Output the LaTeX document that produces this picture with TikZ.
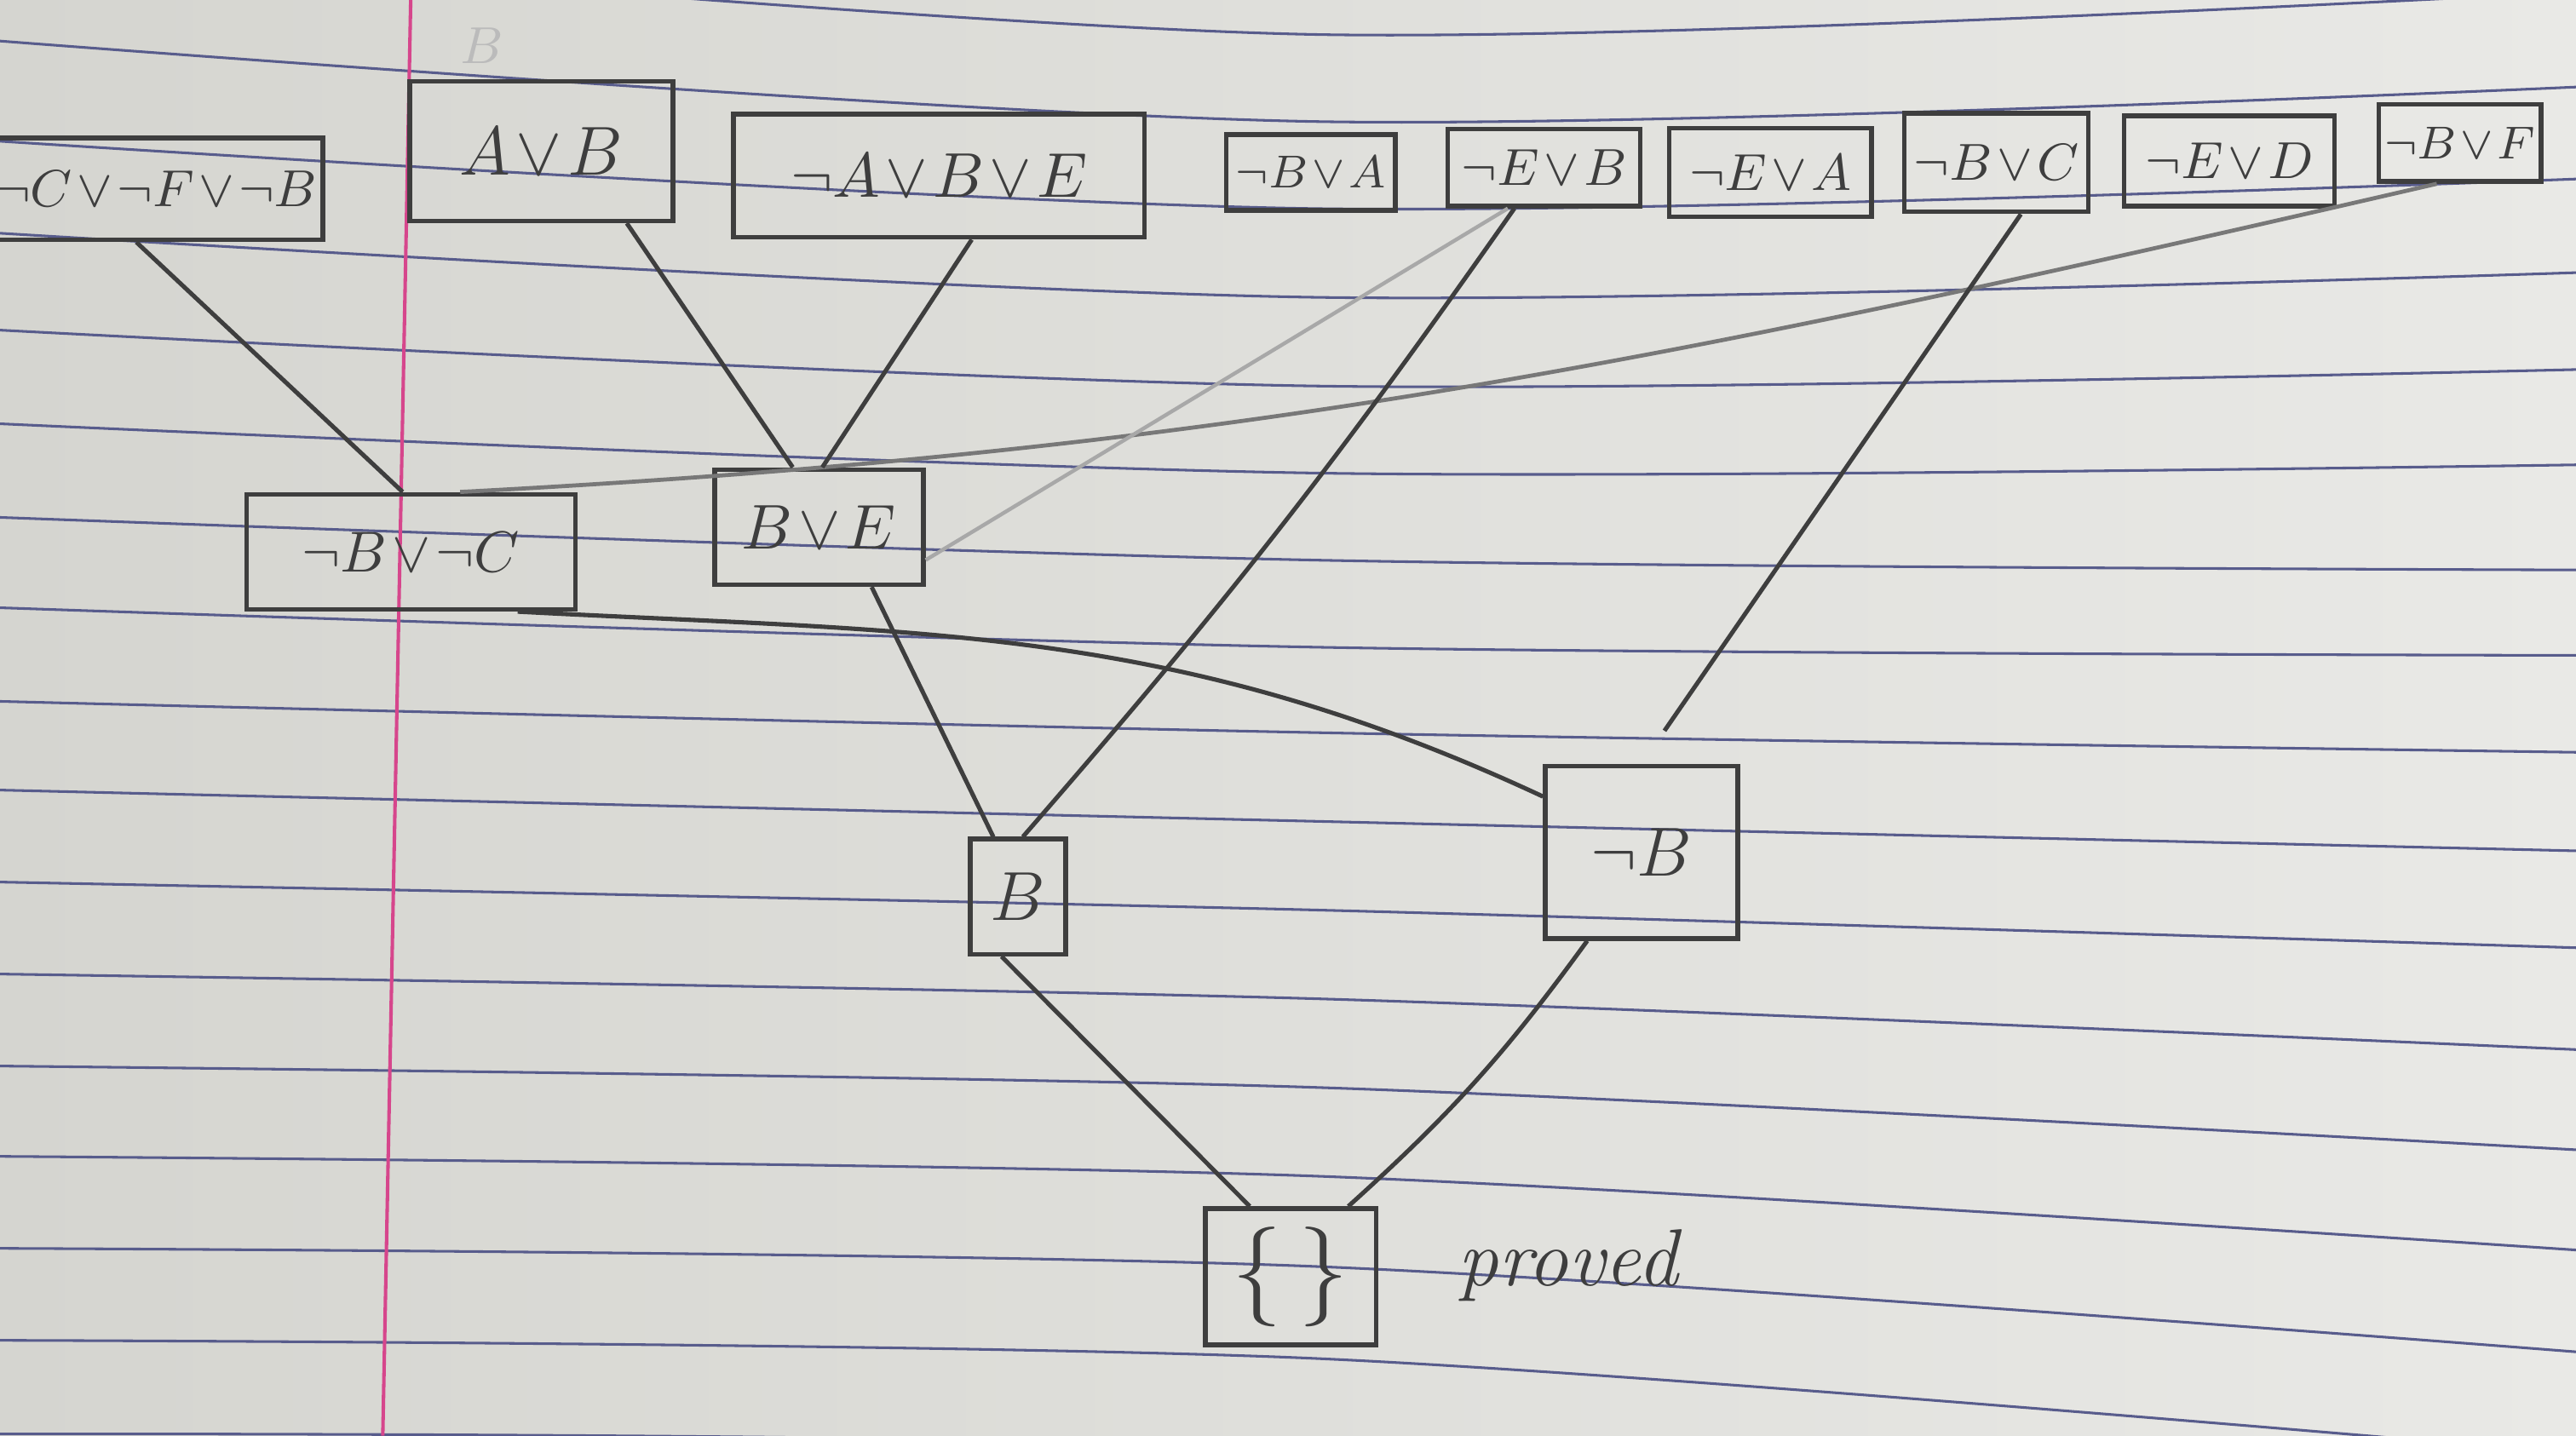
\documentclass[tikz,border=0pt]{standalone}
\usepackage{amsmath,amssymb}
\usepackage{xcolor}
\usetikzlibrary{positioning, calc}

\definecolor{paperL}{RGB}{213,213,208}
\definecolor{paperR}{RGB}{233,233,230}
\definecolor{rule}{RGB}{88,92,140}
\definecolor{margin}{RGB}{214,70,140}
\definecolor{pencil}{RGB}{62,62,62}

\tikzset{
  clause/.style = {
    rectangle, draw=pencil, line width=0.8pt, text=pencil,
    inner xsep=1pt, inner ysep=1.5pt,
    execute at begin node={\medmuskip=1.5mu},
    font=\fontsize{12}{14}\selectfont
  },
  smallclause/.style = {clause, font=\fontsize{9}{11}\selectfont},
  link/.style     = {draw=pencil, line width=0.75pt},
  softlink/.style = {draw=pencil!70, line width=0.7pt},
  faint/.style    = {draw=pencil!45, line width=0.65pt}
}

\begin{document}
\begin{tikzpicture}[
  x=0.01cm, y=-0.01cm,
  rline/.style={draw=rule, line width=0.45pt},
  mline/.style={draw=margin, line width=0.6pt}
]

%% ── Paper ────────────────────────────────────────────
\useasboundingbox (0,0) rectangle (1568,874);
\clip (0,0) rectangle (1568,874);
\shade[left color=paperL, right color=paperR] (0,0) rectangle (1568,874);
\foreach \yl/\ym/\yr in {-35/21/-5, 25/74/53, 86/127/109, 142/181/166,
    201/235/225, 258/288/283, 315/341/347, 370/394/399, 427/446/458,
    481/500/518, 537/554/577, 593/608/639, 649/662/700, 704/716/761,
    760/771/823, 816/827/885, 873/882/945}
  \draw[rline] plot[smooth] coordinates {(0,\yl) (800,\ym) (1568,\yr)};
\draw[mline] (250,0) -- (233,874);

%% ── Row 1: given clauses ─────────────────────────────
\node[smallclause, minimum width=2.0cm, minimum height=0.62cm,
      font=\fontsize{9.5}{11}\selectfont]
  (cfb) at (95,115) {$\neg C\vee\neg F\vee\neg B$};
\node[clause, minimum width=1.6cm, minimum height=0.85cm,
      right=0.5cm of cfb, yshift=0.23cm]
  (ab) {$A\vee B$};
\node[clause, minimum width=2.5cm, minimum height=0.75cm,
      font=\fontsize{11}{13}\selectfont,
      right=0.34cm of ab, yshift=-0.15cm]
  (abe) {$\neg A\vee B\vee E$};
\node[smallclause, minimum width=1.03cm, minimum height=0.46cm,
      font=\fontsize{8.5}{10}\selectfont,
      right=0.47cm of abe, yshift=0.02cm]
  (ba) {$\neg B\vee A$};
\node[smallclause, minimum width=1.17cm, minimum height=0.47cm,
      right=0.29cm of ba, yshift=0.03cm]
  (eb) {$\neg E\vee B$};
\node[smallclause, minimum width=1.23cm, minimum height=0.54cm,
      right=0.15cm of eb, yshift=-0.03cm]
  (ea) {$\neg E\vee A$};
\node[smallclause, minimum width=1.12cm, minimum height=0.6cm,
      right=0.17cm of ea, yshift=0.06cm]
  (bc) {$\neg B\vee C$};
\node[smallclause, minimum width=1.28cm, minimum height=0.55cm,
      right=0.19cm of bc, yshift=0.01cm]
  (ed) {$\neg E\vee D$};
\node[smallclause, minimum width=0.87cm, minimum height=0.47cm,
      font=\fontsize{8}{10}\selectfont,
      right=0.24cm of ed, yshift=0.11cm]
  (bf) {$\neg B\vee F$};

\node[above=0cm of ab, xshift=-0.36cm, yshift=0.05cm, inner sep=1pt,
      text=pencil!35, font=\fontsize{9}{10}\selectfont]
  (mark) {$B$};

%% ── Row 2: resolvents ────────────────────────────────
\node[clause, minimum width=2.0cm, minimum height=0.7cm,
      font=\fontsize{10}{12}\selectfont,
      below=1.52cm of cfb, xshift=1.55cm]
  (bnc) {$\neg B\vee\neg C$};
\node[clause, minimum width=1.27cm, minimum height=0.7cm,
      font=\fontsize{11}{13}\selectfont,
      right=0.82cm of bnc, yshift=0.15cm]
  (be) {$B\vee E$};

%% ── Row 3: unit clauses ──────────────────────────────
\node[clause, minimum width=0.58cm, minimum height=0.7cm,
      font=\fontsize{13}{15}\selectfont,
      below=1.52cm of be, xshift=1.21cm]
  (bb) {$B$};
\node[clause, minimum width=1.17cm, minimum height=1.05cm,
      font=\fontsize{13}{15}\selectfont,
      right=2.89cm of bb, yshift=0.27cm]
  (nb) {$\neg B$};

%% ── Row 4: empty clause ──────────────────────────────
\node[clause, minimum width=1.04cm, minimum height=0.83cm,
      font=\fontsize{18}{20}\selectfont,
      below=1.52cm of bb, xshift=1.66cm]
  (empty) {$\{\,\}$};
\node[right=0.36cm of empty, yshift=0.07cm, text=pencil,
      font=\fontsize{14}{16}\selectfont\itshape]
  (proved) {proved};

%% ── Links ────────────────────────────────────────────
\draw[link] ([xshift=-0.12cm]cfb.south) -- ([xshift=-0.05cm]bnc.north);
\draw[softlink] ([xshift=-0.14cm]bf.south) to[out=-167, in=3]
  ([xshift=0.3cm]bnc.north);
\draw[link] ([xshift=0.52cm]ab.south) -- ([xshift=-0.16cm]be.north);
\draw[link] ([xshift=0.2cm]abe.south) -- ([xshift=0.02cm]be.north);
\draw[faint] ([xshift=-0.22cm]eb.south) -- ([yshift=-0.2cm]be.east);
\draw[link] ([xshift=0.32cm]be.south) -- ([xshift=-0.15cm]bb.north);
\draw[link] ([xshift=-0.18cm]eb.south) to[bend left=3]
  ([xshift=0.03cm]bb.north);
\draw[link] ([xshift=0.65cm]bnc.south) to[out=-3, in=155]
  ([yshift=-0.2cm]nb.north west);
\draw[link] ([xshift=0.15cm]bc.south) --
  ([xshift=0.14cm, yshift=0.2cm]nb.north);
\draw[link] ([xshift=-0.1cm]bb.south) -- ([xshift=-0.25cm]empty.north);
\draw[link] ([xshift=-0.33cm]nb.south) to[bend left=6]
  ([xshift=0.35cm]empty.north);

\end{tikzpicture}
\end{document}
